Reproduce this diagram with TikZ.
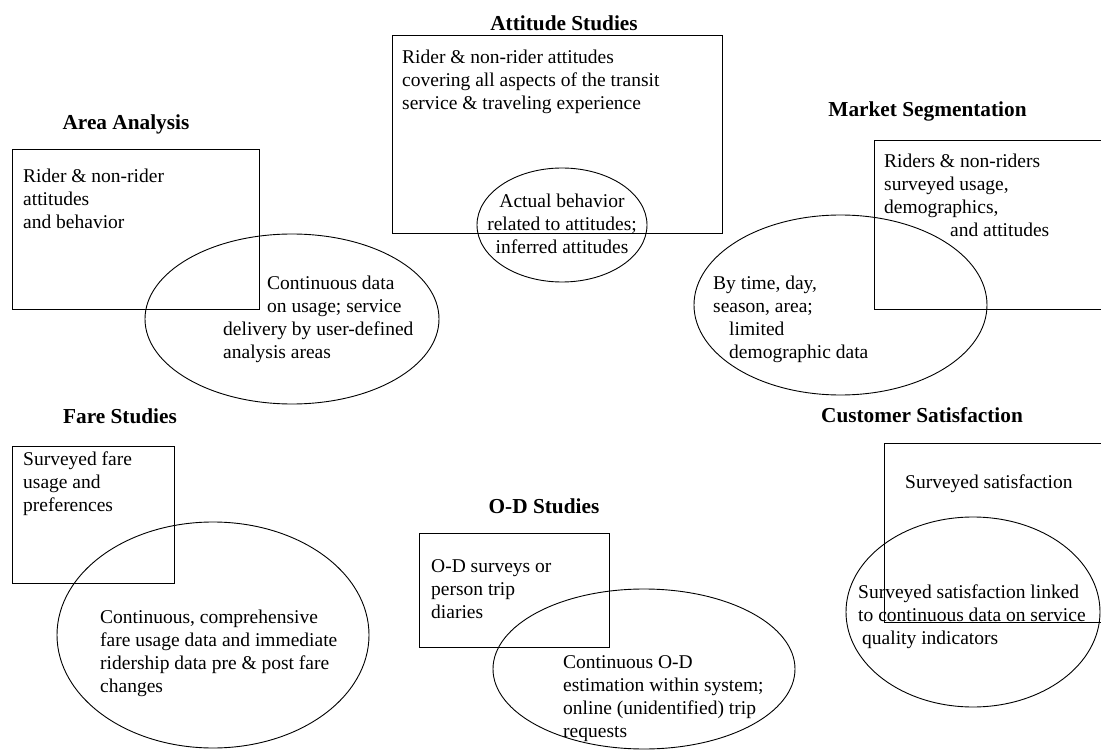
\documentclass[tikz,border=0pt]{standalone}
\usepackage{fontspec}
\setmainfont{Liberation Serif}
\usetikzlibrary{shapes.geometric}
\begin{document}
\begin{tikzpicture}[x=1pt,y=-1pt,
  frame/.style={draw, line width=0.9pt, rectangle, inner sep=0pt, outer sep=0pt, anchor=north west},
  oval/.style={draw, line width=0.9pt, ellipse, inner sep=0pt, outer sep=0pt},
  % multi-line texts are placed by the baseline of their last line
  body/.style={inner sep=0pt, anchor=base west, align=left, font=\fontsize{19.5}{23}\selectfont},
  bodyc/.style={inner sep=0pt, anchor=base, align=center, font=\fontsize{19.5}{23}\selectfont},
  heading/.style={inner sep=0pt, anchor=base, font=\fontsize{21.3}{25}\selectfont\bfseries}]

\useasboundingbox (0,0) rectangle (1101,751);
\clip (0,0) rectangle (1101,751);

% Area Analysis
\node[heading] (areaT) at (126,130) {Area Analysis};
\node[frame, minimum width=247, minimum height=160] (areaB) at (12,149) {};
\node[oval, minimum width=294, minimum height=170] (areaE) at (292,319) {};
\node[body] (areaBt) at (23,229) {Rider \& non-rider\\attitudes\\and behavior};
\node[body] (areaEt) at (223,359) {\hspace*{44pt}Continuous data\\\hspace*{44pt}on usage; service\\delivery by user-defined\\analysis areas};

% Attitude Studies
\node[heading] (attT) at (564,31) {Attitude Studies};
\node[frame, minimum width=330, minimum height=198] (attB) at (392,35) {};
\node[oval, minimum width=170, minimum height=114] (attE) at (562,225) {};
\node[body] (attBt) at (402,110) {Rider \& non-rider attitudes\\covering all aspects of the transit\\service \& traveling experience};
\node[bodyc] (attEt) at (562,254) {Actual behavior\\related to attitudes;\\inferred attitudes};

% Market Segmentation
\node[heading] (mktT) at (927.5,117) {Market Segmentation};
\node[frame, minimum width=240, minimum height=169] (mktB) at (874,140) {};
\node[oval, minimum width=293, minimum height=180] (mktE) at (840.5,305) {};
\node[body] (mktBt) at (884,237) {Riders \& non-riders\\surveyed usage,\\demographics,\\\hspace*{66pt}and attitudes};
\node[body] (mktEt) at (713,359) {By time, day,\\season, area;\\\hspace*{16pt}limited\\\hspace*{16pt}demographic data};

% Fare Studies
\node[heading] (fareT) at (120,423) {Fare Studies};
\node[frame, minimum width=162, minimum height=137] (fareB) at (12,446) {};
\node[oval, minimum width=312, minimum height=226] (fareE) at (213,635) {};
\node[body] (fareBt) at (23,511) {Surveyed fare\\usage and\\preferences};
\node[body] (fareEt) at (100,692) {Continuous, comprehensive\\fare usage data and immediate\\ridership data pre \& post fare\\changes};

% O-D Studies
\node[heading] (odT) at (544,513) {O-D Studies};
\node[frame, minimum width=190, minimum height=114] (odB) at (419,533) {};
\node[oval, minimum width=302, minimum height=160] (odE) at (644,669) {};
\node[body] (odBt) at (431,618) {O-D surveys or\\person trip\\diaries};
\node[body] (odEt) at (563,737) {Continuous O-D\\estimation within system;\\online (unidentified) trip\\requests};

% Customer Satisfaction
\node[heading] (csT) at (922,422) {Customer Satisfaction};
\node[frame, minimum width=230, minimum height=179] (csB) at (884,443) {};
\node[oval, minimum width=254, minimum height=190] (csE) at (973,612) {};
\node[body] (csBt) at (905,488) {Surveyed satisfaction};
\node[body] (csEt) at (858,644) {Surveyed satisfaction linked\\to continuous data on service\\\hspace*{4pt}quality indicators};
\end{tikzpicture}
\end{document}
